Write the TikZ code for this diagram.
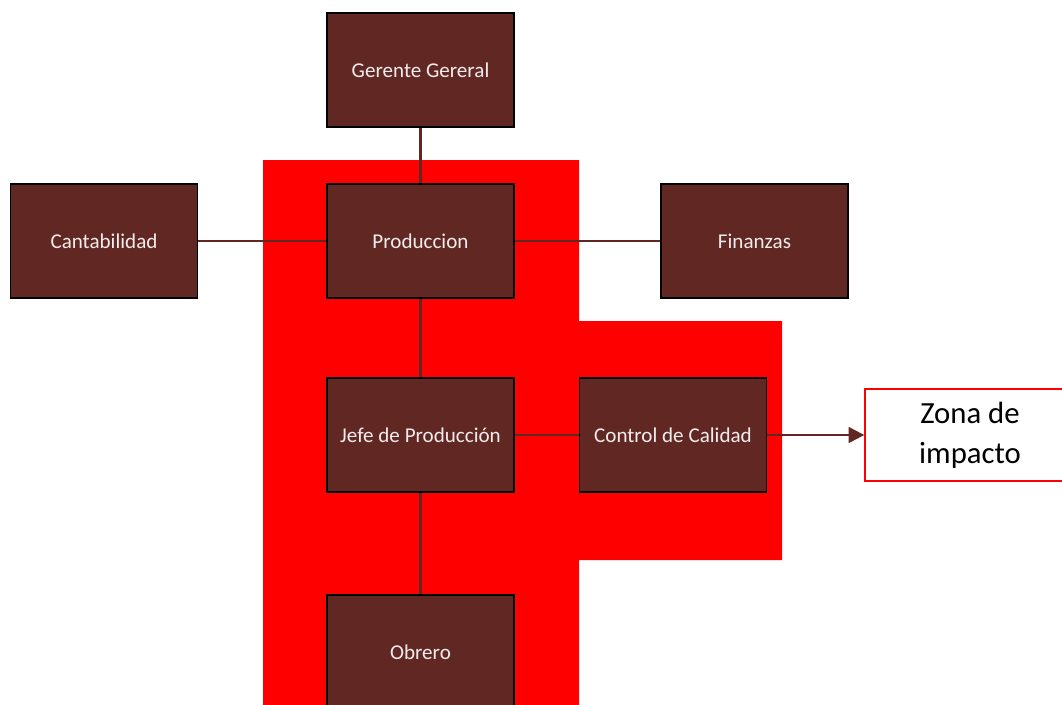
\documentclass[tikz,border=0pt]{standalone}
\usepackage{fontspec}
\setmainfont{Carlito}
\usetikzlibrary{arrows.meta}
\definecolor{cafe}{RGB}{97,40,35}
\definecolor{claro}{RGB}{242,236,236}
\tikzset{
  puesto/.style={draw=black, line width=0.7pt, fill=cafe, text=claro,
    minimum width=3.74cm, minimum height=2.28cm, inner sep=0pt,
    font=\fontsize{12}{14}\selectfont},
  enlace/.style={draw=cafe, line width=1.3pt},
}
\begin{document}
\begin{tikzpicture}[x=0.02cm, y=-0.02cm]
  \useasboundingbox (0,0) rectangle (1062,704);
  \clip (0,0) rectangle (1062,704);
  % draw the red zone behind the boxes
  \fill[red] (263,160) -- (579,160) -- (579,321) -- (782,321) -- (782,560)
    -- (579,560) -- (579,720) -- (263,720) -- cycle;
  % draw the boxes
  \node[puesto] (gerente) at (420.5,70) {Gerente Gereral};
  \node[puesto] (produccion) at (420.5,241) {Produccion};
  \node[puesto] (contabilidad) at (104,241) {Cantabilidad};
  \node[puesto] (finanzas) at (754.5,241) {Finanzas};
  \node[puesto] (jefe) at (420.5,435) {Jefe de Producción};
  \node[puesto] (control) at (673,435) {Control de Calidad};
  \node[puesto] (obrero) at (420.5,652) {Obrero};
  \node[draw=red, line width=0.8pt, fill=white, minimum width=4.2cm, minimum height=1.84cm,
    align=center, font=\fontsize{17.5}{23}\selectfont] (zona) at (970,435) {Zona de\\impacto};
  % draw the links
  \draw[enlace] (gerente) -- (produccion);
  \draw[enlace] (contabilidad) -- (produccion);
  \draw[enlace] (produccion) -- (finanzas);
  \draw[enlace] (produccion) -- (jefe);
  \draw[enlace] (jefe) -- (control);
  \draw[enlace] (jefe) -- (obrero);
  % draw the arrow to the impact zone
  \draw[enlace, -{Triangle[length=9pt, width=9pt]}] (control) -- (zona);
\end{tikzpicture}
\end{document}
